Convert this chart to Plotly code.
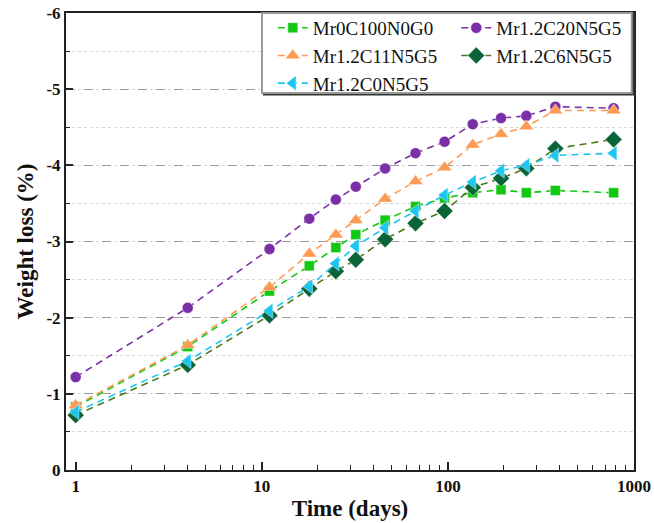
import plotly.graph_objects as go

days = [1, 4, 11, 18, 25, 32, 46, 67, 96, 136, 193, 264, 378, 777]

mr0c100 = [-0.83, -1.62, -2.35, -2.68, -2.92, -3.09, -3.28, -3.46, -3.57, -3.64, -3.68, -3.64, -3.67, -3.64]
mr12c20 = [-1.22, -2.13, -2.90, -3.30, -3.55, -3.72, -3.96, -4.16, -4.31, -4.54, -4.62, -4.65, -4.77, -4.75]
mr12c11 = [-0.85, -1.64, -2.40, -2.84, -3.09, -3.28, -3.56, -3.79, -3.97, -4.27, -4.41, -4.51, -4.72, -4.72]
mr12c6 = [-0.72, -1.38, -2.03, -2.38, -2.61, -2.76, -3.03, -3.24, -3.40, -3.71, -3.83, -3.96, -4.22, -4.34]
mr12c0 = [-0.76, -1.43, -2.09, -2.41, -2.71, -2.94, -3.18, -3.40, -3.61, -3.78, -3.93, -4.00, -4.13, -4.16]

y_ticks = [0, -1, -2, -3, -4, -5, -6]
y_ticktext = ["0", "-1", "-2", "-3", "-4", "-5", "-6"]
x_ticks = [1, 10, 100, 1000]
x_ticktext = ["1", "10", "100", "1000"]
x_minor = [2, 3, 4, 5, 6, 7, 8, 9, 20, 30, 40, 50, 60, 70, 80, 90, 200, 300, 400, 500, 600, 700, 800, 900]

SERIF = "Liberation Serif"
DASH = "7px,5px"

series = [
    ("Mr0C100N0G0", mr0c100, "#12c812", "#12c812", "square", 10, "legend"),
    ("Mr1.2C20N5G5", mr12c20, "#7b2fa6", "#7b2fa6", "circle", 11, "legend2"),
    ("Mr1.2C11N5G5", mr12c11, "#ff9a55", "#ff9a55", "triangle-up", 13, "legend"),
    ("Mr1.2C6N5G5", mr12c6, "#4f7a1c", "#0b6438", "diamond", 13, "legend2"),
    ("Mr1.2C0N5G5", mr12c0, "#1cc6ef", "#1cc6ef", "triangle-left", 13, "legend"),
]

fig = go.Figure()
for name, vals, lc, mc, sym, sz, lg in series:
    fig.add_trace(go.Scatter(
        x=days, y=vals, name=name, mode="lines+markers",
        line=dict(color=lc, width=1.6, dash=DASH),
        marker=dict(symbol=sym, size=sz, color=mc, line=dict(width=0.6, color="rgba(255,255,255,0.7)")),
        legend=lg,
    ))

x0p = (262 - 66) / 568
y0p = (470 - 93) / 457

legfont = dict(size=19, family=SERIF, color="#111")

fig.update_layout(
    width=654, height=523,
    margin=dict(l=66, r=20, t=13, b=53, autoexpand=False),
    plot_bgcolor="white", paper_bgcolor="white",
    font=dict(family=SERIF, color="#111"),
    legend=dict(x=x0p + 0.019, y=1.009, xanchor="left", yanchor="top",
                bgcolor="rgba(0,0,0,0)", borderwidth=0, font=legfont,
                tracegroupgap=0, itemwidth=30),
    legend2=dict(x=x0p + 0.342, y=1.009, xanchor="left", yanchor="top",
                 bgcolor="rgba(0,0,0,0)", borderwidth=0, font=legfont,
                 tracegroupgap=0, itemwidth=30),
    shapes=[
        dict(type="rect", xref="paper", yref="paper", x0=x0p + 0.003, x1=1.0, y0=y0p - 0.004, y1=1.0,
             line=dict(color="#333", width=1.5), fillcolor="#333", layer="above"),
        dict(type="rect", xref="paper", yref="paper", x0=x0p, x1=0.996, y0=y0p, y1=1.0,
             line=dict(color="#9a9a9a", width=2), fillcolor="white", layer="above"),
    ],
)

fig.update_xaxes(
    type="log", range=[-0.052, 3.0],
    tickvals=x_ticks, ticktext=x_ticktext,
    ticks="inside", ticklen=8, tickwidth=1.5, tickcolor="#222",
    minor=dict(tickmode="array", tickvals=x_minor, ticks="inside", ticklen=5, tickwidth=1.2, tickcolor="#222", showgrid=False),
    showgrid=False, zeroline=False, automargin=False,
    showline=True, linecolor="#222", linewidth=2, mirror=True,
    tickfont=dict(family=SERIF, size=17, weight="bold", color="#111"),
    title=dict(text="Time (days)", font=dict(family=SERIF, size=23, weight="bold", color="#111"), standoff=4),
)

fig.update_yaxes(
    range=[0, -6],
    tickvals=y_ticks, ticktext=y_ticktext,
    ticks="inside", ticklen=7, tickwidth=1.5, tickcolor="#222",
    minor=dict(dtick=0.5, ticks="inside", ticklen=4, tickwidth=1.2, tickcolor="#222",
               showgrid=True, griddash="dot", gridcolor="#d6d6d6", gridwidth=1),
    showgrid=True, griddash="dash", gridcolor="#9a9a9a", gridwidth=1.3,
    zeroline=False, automargin=False,
    showline=True, linecolor="#222", linewidth=2, mirror=True,
    tickfont=dict(family=SERIF, size=17, weight="bold", color="#111"),
    title=dict(text="Weight loss (%)", font=dict(family=SERIF, size=23, weight="bold", color="#111"), standoff=6),
)

fig.write_html("out.html", config={"displayModeBar": False},
               post_script="document.body.style.margin='0';")
